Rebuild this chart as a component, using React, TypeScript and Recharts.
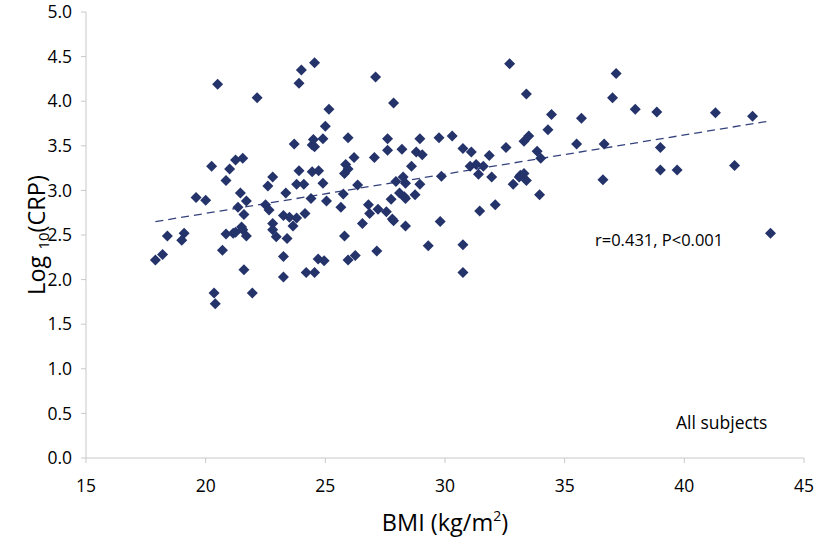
import { ScatterChart, Scatter, XAxis, YAxis, ReferenceLine } from "recharts";

// BMI (kg/m2) and log10(CRP), paired by index
const bmi = [
  17.9, 18.2, 18.4, 19.1, 19.0, 19.6, 20.0, 20.25, 20.5, 20.35, 20.4, 20.7, 20.85, 20.85, 21.0, 21.15,
  21.25, 21.25, 21.55, 21.35, 21.45, 21.5, 21.55, 21.6, 21.7, 21.7, 21.6, 21.95, 22.15, 22.5, 22.65, 22.6,
  22.8, 22.8, 22.8, 22.95, 23.25, 23.25, 23.25, 23.35, 23.4, 23.5, 23.65, 23.7, 23.8, 23.8, 23.9, 23.9,
  24.0, 24.1, 24.15, 24.2, 24.4, 24.45, 24.45, 24.5, 24.55, 24.55, 24.55, 24.72, 24.7, 24.9, 24.9, 24.95,
  25.0, 25.05, 25.15, 25.65, 25.75, 25.8, 25.8, 25.85, 25.95, 25.95, 25.95, 26.2, 26.25, 26.35, 26.55, 26.8,
  26.85, 27.05, 27.1, 27.15, 27.2, 27.55, 27.6, 27.6, 27.75, 27.8, 27.85, 27.85, 27.95, 28.1, 28.2, 28.25,
  28.3, 28.35, 28.35, 28.35, 28.6, 28.75, 28.8, 28.95, 28.95, 29.05, 29.3, 29.75, 29.8, 29.85, 30.3, 30.75,
  30.75, 30.75, 31.1, 31.05, 31.3, 31.4, 31.45, 31.6, 31.85, 31.95, 32.1, 32.55, 32.7, 32.85, 33.1, 33.15,
  33.3, 33.3, 33.4, 33.4, 33.5, 33.85, 33.95, 34.0, 34.3, 34.45, 35.5, 35.7, 36.6, 36.65, 37.0, 37.15,
  37.95, 38.85, 39.0, 39.0, 39.7, 41.3, 42.1, 42.85, 43.6,
];
const logCrp = [
  2.22, 2.28, 2.49, 2.52, 2.44, 2.92, 2.89, 3.27, 4.19, 1.85, 1.73, 2.33, 2.51, 3.11, 3.24, 2.52,
  2.53, 3.34, 3.36, 2.81, 2.97, 2.59, 2.56, 2.73, 2.49, 2.88, 2.11, 1.85, 4.04, 2.84, 2.78, 3.05,
  3.15, 2.63, 2.56, 2.48, 2.72, 2.26, 2.03, 2.97, 2.46, 2.70, 2.60, 3.52, 2.69, 3.07, 3.22, 4.20,
  4.35, 3.07, 2.74, 2.08, 2.91, 3.21, 3.51, 3.57, 4.43, 3.49, 2.08, 3.22, 2.23, 3.58, 3.08, 2.21,
  3.72, 2.88, 3.91, 2.81, 2.96, 2.49, 3.19, 3.29, 3.24, 3.59, 2.22, 3.37, 2.27, 3.06, 2.63, 2.84,
  2.74, 3.37, 4.27, 2.32, 2.79, 2.76, 3.58, 3.45, 2.90, 2.68, 2.66, 3.98, 3.10, 2.97, 3.46, 3.15,
  2.93, 3.08, 2.91, 2.60, 3.27, 2.95, 3.43, 3.58, 3.07, 3.40, 2.38, 3.59, 2.65, 3.16, 3.61, 3.47,
  2.39, 2.08, 3.43, 3.27, 3.29, 3.18, 2.77, 3.27, 3.39, 3.15, 2.84, 3.48, 4.42, 3.07, 3.15, 3.17,
  3.19, 3.55, 4.08, 3.11, 3.61, 3.44, 2.95, 3.36, 3.68, 3.85, 3.52, 3.81, 3.12, 3.52, 4.04, 4.31,
  3.91, 3.88, 3.48, 3.23, 3.23, 3.87, 3.28, 3.83, 2.52,
];

// fitted line end points (BMI, log10 CRP)
const trendX = [17.9, 43.6];
const trendY = [2.65, 3.78];

const xTicks = [15, 20, 25, 30, 35, 40, 45];
const yTicks = [0, 0.5, 1, 1.5, 2, 2.5, 3, 3.5, 4, 4.5, 5];

const points = bmi.map((x, i) => ({ x, y: logCrp[i] }));

const NAVY = "#25336b";
const AXIS = "#c8c8c8";
const FONT = "'Open Sans', 'Noto Sans', sans-serif";

const Diamond = (props: any) => {
  const { cx, cy } = props;
  const r = 5.5;
  return <path d={`M${cx},${cy - r}L${cx + r},${cy}L${cx},${cy + r}L${cx - r},${cy}Z`} fill={NAVY} />;
};

export default function App() {
  // pinned to the page corner so nothing is clipped by the body margin
  return (
    <div style={{ position: "absolute", left: 0, top: 0, width: 818, height: 544, fontFamily: FONT }}>
      <ScatterChart width={818} height={544} margin={{ top: 12, right: 14, left: 0, bottom: 0 }}>
        <XAxis
          type="number"
          dataKey="x"
          domain={[15, 45]}
          ticks={xTicks}
          height={86}
          axisLine={{ stroke: AXIS }}
          tickLine={{ stroke: AXIS }}
          tickSize={5}
          tickMargin={17}
          interval={0}
          tick={{ fill: "#000", fontSize: 17.5, fontFamily: FONT }}
        />
        <YAxis
          type="number"
          dataKey="y"
          domain={[0, 5]}
          ticks={yTicks}
          width={86}
          axisLine={{ stroke: AXIS }}
          tickLine={{ stroke: AXIS }}
          tickSize={5}
          tickMargin={9}
          interval={0}
          tickFormatter={(v: number) => v.toFixed(1)}
          tick={{ fill: "#000", fontSize: 17.5, fontFamily: FONT }}
        />
        <ReferenceLine
          segment={[
            { x: trendX[0], y: trendY[0] },
            { x: trendX[1], y: trendY[1] },
          ]}
          stroke="#34427c"
          strokeWidth={1.3}
          strokeDasharray="8 5"
        />
        <Scatter data={points} shape={Diamond} isAnimationActive={false} />
      </ScatterChart>
      <svg
        width={818}
        height={544}
        style={{ position: "absolute", left: 0, top: 0, pointerEvents: "none", fontFamily: FONT }}
      >
        <text x={595} y={246} fontSize={16.5} fill="#000">
          r=0.431, P&lt;0.001
        </text>
        <text x={676} y={429} fontSize={17.5} fill="#000">
          All subjects
        </text>
        <text x={445} y={531} fontSize={23.5} fill="#000" textAnchor="middle">
          BMI (kg/m<tspan fontSize={14} dy={-10}>2</tspan>
          <tspan dy={10}>)</tspan>
        </text>
        <text transform="translate(45,235) rotate(-90)" fontSize={23.5} fill="#000" textAnchor="middle">
          Log <tspan fontSize={15} dy={4}>10</tspan>
          <tspan dy={-4}>(CRP)</tspan>
        </text>
      </svg>
    </div>
  );
}
